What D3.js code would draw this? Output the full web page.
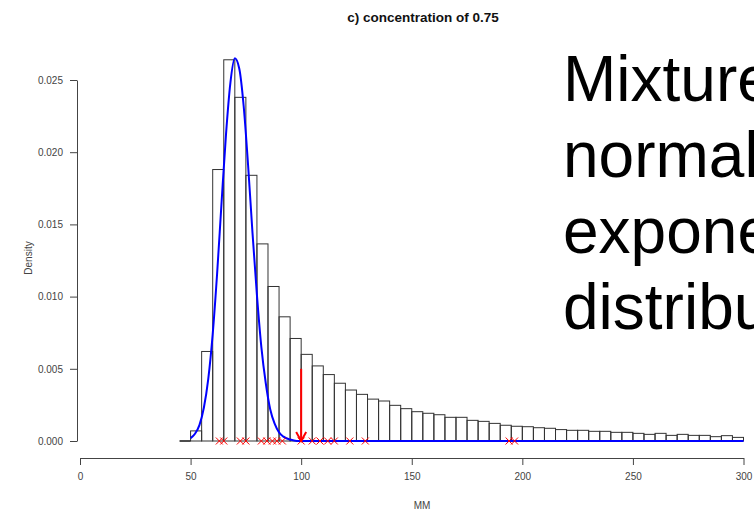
<!DOCTYPE html>
<html>
<head>
<meta charset="utf-8">
<script src="https://cdn.jsdelivr.net/npm/d3@7"></script>
<style>
  body { margin: 0; background: #fff; overflow: hidden; }
  svg { display: block; font-family: "Liberation Sans", Arial, sans-serif; }
</style>
</head>
<body>
<div id="viz"></div>
<script>
var width = 754, height = 515;

// histogram: left edge of each 5-unit bin and its density
var binStart = d3.range(50, 300, 5);
var binDensity = [
  0.0007, 0.0062, 0.0188, 0.0264, 0.0238, 0.0184, 0.01365, 0.0107, 0.0086, 0.0071,
  0.0060, 0.0052, 0.0046, 0.0040, 0.00353, 0.00323, 0.0029, 0.00277, 0.00247, 0.00224,
  0.00203, 0.00192, 0.00182, 0.00164, 0.00164, 0.00143, 0.00136, 0.00122, 0.00109, 0.00102,
  0.00099, 0.00092, 0.00088, 0.00079, 0.00074, 0.00074, 0.00067, 0.00067, 0.00060, 0.00060,
  0.00053, 0.00046, 0.00053, 0.00039, 0.00046, 0.00039, 0.00039, 0.00030, 0.00037, 0.00025
];

// blue fitted curve
var curveX = [50, 52, 54, 56, 58, 60, 62, 64, 66, 68, 70, 72, 74, 76, 78, 80, 82, 84, 86, 88, 90, 92, 95, 98, 300];
var curveY = [0.0002, 0.0005, 0.0011, 0.0023, 0.0043, 0.0074, 0.0116, 0.0165, 0.0212, 0.0248,
              0.0265, 0.0258, 0.0232, 0.0191, 0.0144, 0.0101, 0.0065, 0.0040, 0.0022, 0.0012,
              0.0006, 0.0003, 0.0001, 0, 0];

// red crosses on the baseline
var markX = [63, 65, 72.5, 75, 82, 84.5, 87, 89, 91.5, 100, 105, 108.5, 112, 115, 122, 129, 194, 196.5];

// red arrow
var arrowX = 100, arrowTop = 0.005;

var xTicks = [0, 50, 100, 150, 200, 250, 300];
var yTicks = [0, 0.005, 0.010, 0.015, 0.020, 0.025];

var title = "c) concentration of 0.75";
var xLabel = "MM", yLabel = "Density";
var noteLines = ["Mixture of", "normal and", "exponential", "distributions"];

var x = d3.scaleLinear().domain([0, 300]).range([80, 743.5]);
var y = d3.scaleLinear().domain([0, 0.025]).range([441, 80]);

var svg = d3.select("#viz").append("svg")
  .attr("width", width)
  .attr("height", height);

// title
svg.append("text")
  .attr("x", 423).attr("y", 22)
  .attr("text-anchor", "middle")
  .attr("font-size", 13.5).attr("font-weight", "bold")
  .attr("fill", "#111")
  .text(title);

// x axis
svg.append("g")
  .attr("transform", "translate(0,458)")
  .call(d3.axisBottom(x).tickValues(xTicks).tickSize(7).tickSizeOuter(0).tickPadding(8).tickFormat(d3.format("d")))
  .call(g => g.selectAll("text").attr("font-size", 10).attr("fill", "#444").attr("font-family", null))
  .call(g => g.selectAll("line, path").attr("stroke", "#444"));

// y axis
svg.append("g")
  .attr("transform", "translate(77,0)")
  .call(d3.axisLeft(y).tickValues(yTicks).tickSize(7).tickSizeOuter(0).tickPadding(7).tickFormat(d3.format(".3f")))
  .call(g => g.selectAll("text").attr("font-size", 10).attr("fill", "#444").attr("font-family", null))
  .call(g => g.selectAll("line, path").attr("stroke", "#444"));

svg.append("text")
  .attr("x", 422).attr("y", 509)
  .attr("text-anchor", "middle")
  .attr("font-size", 10).attr("fill", "#444")
  .text(xLabel);

svg.append("text")
  .attr("transform", "translate(32,258) rotate(-90)")
  .attr("text-anchor", "middle")
  .attr("font-size", 10).attr("fill", "#444")
  .text(yLabel);

// histogram bars
var bins = binStart.map((s, i) => ({x0: s, x1: s + 5, d: binDensity[i]}));
svg.append("g")
  .selectAll("rect")
  .data(bins)
  .join("rect")
  .attr("x", d => x(d.x0))
  .attr("y", d => y(d.d))
  .attr("width", d => x(d.x1) - x(d.x0))
  .attr("height", d => y(0) - y(d.d))
  .attr("fill", "none")
  .attr("stroke", "#333")
  .attr("stroke-width", 1);

// short dark baseline before the curve starts
svg.append("line")
  .attr("x1", x(45)).attr("x2", x(50))
  .attr("y1", y(0)).attr("y2", y(0))
  .attr("stroke", "#111").attr("stroke-width", 1.5);

// fitted curve
var curve = curveX.map((v, i) => [v, curveY[i]]);
svg.append("path")
  .datum(curve)
  .attr("fill", "none")
  .attr("stroke", "#0000ff")
  .attr("stroke-width", 2)
  .attr("d", d3.line().x(d => x(d[0])).y(d => y(d[1])).curve(d3.curveMonotoneX));

// crosses
svg.append("g")
  .selectAll("path")
  .data(markX)
  .join("path")
  .attr("transform", d => "translate(" + x(d) + "," + y(0) + ")")
  .attr("d", "M-3.5,-3.5L3.5,3.5M-3.5,3.5L3.5,-3.5")
  .attr("stroke", "#ff0000")
  .attr("stroke-width", 1)
  .attr("fill", "none");

// arrow
var ax = x(arrowX), ay0 = y(arrowTop), ay1 = y(0);
svg.append("line")
  .attr("x1", ax).attr("x2", ax)
  .attr("y1", ay0).attr("y2", ay1)
  .attr("stroke", "#ff0000").attr("stroke-width", 2);
svg.append("path")
  .attr("d", "M" + (ax - 5) + "," + (ay1 - 9) + "L" + ax + "," + ay1 + "L" + (ax + 5) + "," + (ay1 - 9))
  .attr("stroke", "#ff0000").attr("stroke-width", 2).attr("fill", "none");

// big annotation text (runs off the right edge, as in the original)
svg.append("g")
  .selectAll("text")
  .data(noteLines)
  .join("text")
  .attr("x", 563)
  .attr("y", (d, i) => 101 + i * 76)
  .attr("font-size", 64)
  .attr("fill", "#000")
  .text(d => d);
</script>
</body>
</html>
